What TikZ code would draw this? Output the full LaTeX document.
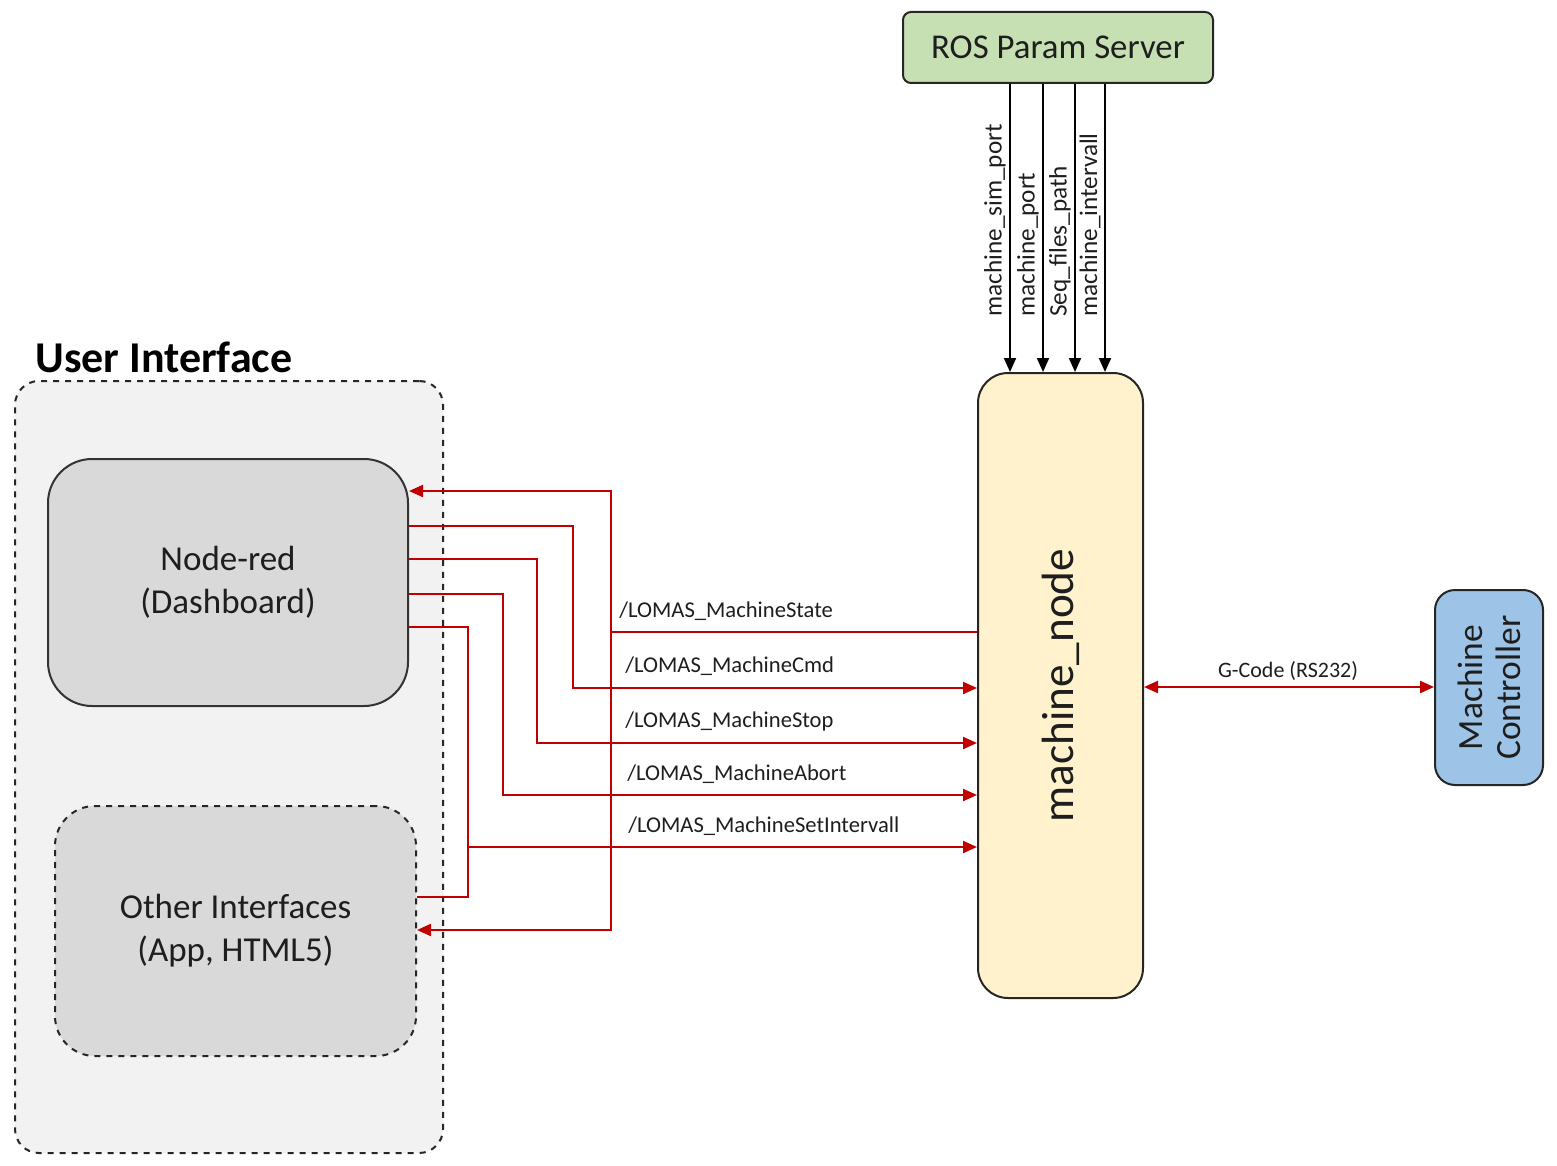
\documentclass[tikz,border=0pt]{standalone}
\usepackage{fontspec}
\setmainfont{Carlito}
\usetikzlibrary{arrows.meta,calc}
\definecolor{redline}{RGB}{192,0,0}
\definecolor{rosgreen}{RGB}{198,224,180}
\definecolor{nodeyellow}{RGB}{255,242,204}
\definecolor{ctrlblue}{RGB}{157,195,230}
\definecolor{uigray}{RGB}{242,242,242}
\definecolor{boxgray}{RGB}{217,217,217}
\definecolor{txt}{RGB}{30,30,30}
\begin{document}
\begin{tikzpicture}[x=0.5pt,y=-0.5pt,
  box/.style={draw=black!85, line width=1pt, inner sep=0pt, text=txt},
  rl/.style={draw=redline, line width=1.1pt, -{Triangle[length=7pt,width=6pt]}},
  rlplain/.style={draw=redline, line width=1.1pt},
  bl/.style={draw=black, line width=1pt, -{Triangle[length=7pt,width=6pt]}},
  topic/.style={anchor=base west, inner sep=0pt, text=txt, font=\fontsize{11.3}{13}\selectfont},
  param/.style={rotate=90, anchor=south west, inner sep=1.5pt, text=txt, font=\fontsize{12.6}{14}\selectfont},
  big/.style={font=\fontsize{17.5}{21.5}\selectfont, align=center, text=txt}
]
\fill[white] (0,0) rectangle (1557,1166);
\useasboundingbox (0,0) rectangle (1557,1166);

% User interface group
\node[box, dashed, fill=uigray, rounded corners=12pt, minimum width=214pt, minimum height=386pt] (ui) at (229,767) {};
\node[anchor=base west, inner sep=0pt, font=\fontsize{22}{26}\selectfont\bfseries] (uititle) at (35,372) {User Interface};

\node[box, fill=boxgray, draw=black!80, rounded corners=22pt, minimum width=180pt, minimum height=123.5pt] (nr) at (228,582.5) {};
\node[big] (nrt) at (nr.center) {Node-red\\(Dashboard)};

\node[box, dashed, fill=boxgray, rounded corners=20pt, minimum width=180.5pt, minimum height=125pt] (oi) at (235.5,931) {};
\node[big] (oit) at (oi.center) {Other Interfaces\\(App, HTML5)};

% ROS Param Server
\node[box, fill=rosgreen, rounded corners=4pt, minimum width=155pt, minimum height=35.5pt, font=\fontsize{17.4}{21}\selectfont] (ros) at (1058,47.5) {ROS Param Server};

% machine_node
\node[box, fill=nodeyellow, rounded corners=15pt, minimum width=82.5pt, minimum height=312.5pt] (mn) at (1060.5,685.5) {};
\node[rotate=90, text=txt, font=\fontsize{22.6}{26}\selectfont] (mnt) at (mn.center) {machine\_node};

% Machine Controller
\node[box, fill=ctrlblue, rounded corners=10pt, minimum width=54pt, minimum height=97.5pt] (mc) at (1489,687.5) {};
\node[rotate=90, align=center, text=txt, font=\fontsize{17.7}{19}\selectfont] (mct) at (mc.center) {Machine\\Controller};

% parameter arrows
\draw[bl] (ros.south -| 1010,0) -- (mn.north -| 1010,0);
\draw[bl] (ros.south -| 1043,0) -- (mn.north -| 1043,0);
\draw[bl] (ros.south -| 1075,0) -- (mn.north -| 1075,0);
\draw[bl] (ros.south -| 1105,0) -- (mn.north -| 1105,0);
\node[param] (p1) at (1009,320) {machine\_sim\_port};
\node[param] (p2) at (1042,320) {machine\_port};
\node[param] (p3) at (1074,320) {Seq\_files\_path};
\node[param] (p4) at (1104,320) {machine\_intervall};

% topics
\coordinate (j1) at (611,632);
\draw[rl] (mn.west |- j1) -- (j1) |- (nr.east |- 0,491);
\draw[rl] (j1) |- (oi.east |- 0,930);
\node[topic] (t1) at (619,617) {/LOMAS\_MachineState};

\draw[rl] (nr.east |- 0,526) -| (573,688) -- (mn.west |- 0,688);
\node[topic] (t2) at (625,672) {/LOMAS\_MachineCmd};

\draw[rl] (nr.east |- 0,559) -| (537,743) -- (mn.west |- 0,743);
\node[topic] (t3) at (625,727) {/LOMAS\_MachineStop};

\draw[rl] (nr.east |- 0,594) -| (503,795) -- (mn.west |- 0,795);
\node[topic] (t4) at (627,780) {/LOMAS\_MachineAbort};

\coordinate (j2) at (468,847);
\draw[rl] (nr.east |- 0,627) -| (j2) -- (mn.west |- j2);
\draw[rlplain] (oi.east |- 0,897) -| (j2);
\node[topic] (t5) at (628,832) {/LOMAS\_MachineSetIntervall};

% G-code
\draw[rl, {Triangle[length=7pt,width=6pt]}-{Triangle[length=7pt,width=6pt]}] (mn.east |- 0,687) -- (mc.west |- 0,687);
\node[anchor=base, inner sep=0pt, text=txt, font=\fontsize{11}{13}\selectfont] (gc) at (1288,677) {G-Code (RS232)};
\end{tikzpicture}
\end{document}
